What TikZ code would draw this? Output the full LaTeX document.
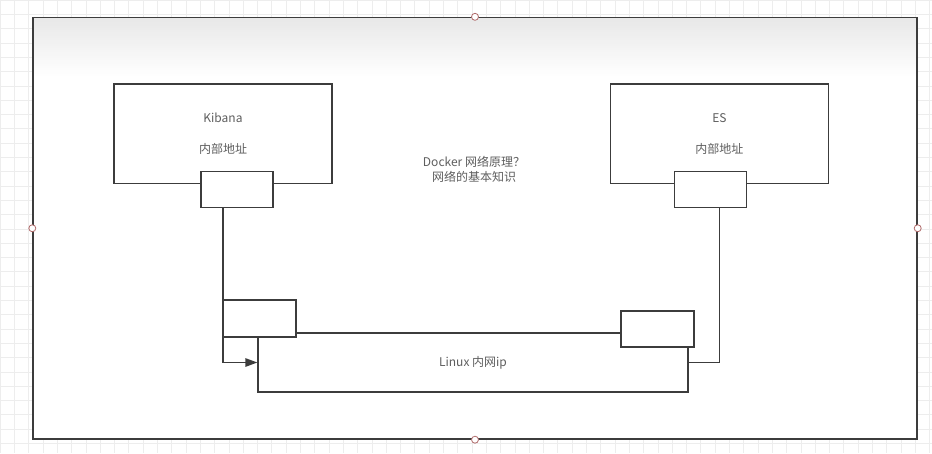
\documentclass[tikz,border=0pt]{standalone}
\usepackage{fontspec}
\setmainfont{Noto Sans CJK SC}
\usetikzlibrary{positioning, arrows.meta}

\definecolor{linegray}{HTML}{3C3C3C}
\definecolor{txtgray}{HTML}{5E5E5E}
\definecolor{gridgray}{HTML}{EDEDED}
\definecolor{topgray}{HTML}{E8E8E8}
\definecolor{handlered}{HTML}{B06A6A}

\begin{document}
\begin{tikzpicture}[
    x=1pt, y=-1pt,
    % plain white boxes with dark outline
    box/.style={
        draw=linegray,
        line width=1.4pt,
        rectangle,
        fill=white,
        inner sep=0pt,
        text=txtgray,
        font=\fontsize{12}{31}\selectfont,
        align=center
    },
    port/.style={box, minimum width=72pt, minimum height=36pt},
    arr/.style={-{Triangle[length=12pt, width=8.5pt]}, draw=linegray, line width=1.4pt},
    wire/.style={draw=linegray, line width=1.4pt},
    handle/.style={circle, draw=handlered, fill=white, line width=0.8pt, minimum size=7pt, inner sep=0pt}
]

    \useasboundingbox (0,0) rectangle (932,453);
    \draw[gridgray, line width=0.6pt, step=14.3pt] (0,0) grid (932,453);

    % --- Frame (light fade along its top, drawn as thin strips) ---
    \node[box, minimum width=884pt, minimum height=421.5pt,
        path picture={
            \foreach \i in {0,...,29}{
                \pgfmathsetmacro{\mix}{100-100*\i/29}
                \pgfmathsetmacro{\ya}{-2*\i}
                \fill[topgray!\mix!white]
                    ([yshift=\ya pt]path picture bounding box.north west) rectangle
                    ([yshift=\ya pt - 2.3pt]path picture bounding box.north east);
            }
        }
    ] (frame) at (475,228.25) {};

    % --- Nodes ---
    \node[box, minimum width=218pt, minimum height=99.5pt] (kibana) at (223,133.75) {Kibana\\内部地址};
    \node[box, minimum width=218pt, minimum height=99.5pt, right=277pt of kibana] (es) {ES\\内部地址};

    \node[port] (kport) at ([xshift=14pt, yshift=-5.5pt]kibana.south) {};
    \node[port] (eport) at ([xshift=-9pt, yshift=-5.5pt]es.south) {};

    \node[text=txtgray, font=\fontsize{12}{15}\selectfont, align=center] (topic) at (474,169.5)
        {Docker 网络原理？\\网络的基本知识};

    \node[box, minimum width=430pt, minimum height=59pt] (linux) at (473,362.5) {Linux 内网ip};
    \node[box, minimum width=73pt, minimum height=37pt] (lport) at (259.5,318.5) {};
    \node[box, minimum width=73pt, minimum height=36pt] (rport) at (657.5,329) {};

    % --- Edges ---
    \draw[arr]  (kibana.center |- kport.south) |- (linux.west);
    \draw[wire] (es.center |- eport.south) |- (linux.east);

    % selection handles on the frame
    \foreach \side in {north, west, east, south}
        \node[handle] (h-\side) at (frame.\side) {};

\end{tikzpicture}
\end{document}
